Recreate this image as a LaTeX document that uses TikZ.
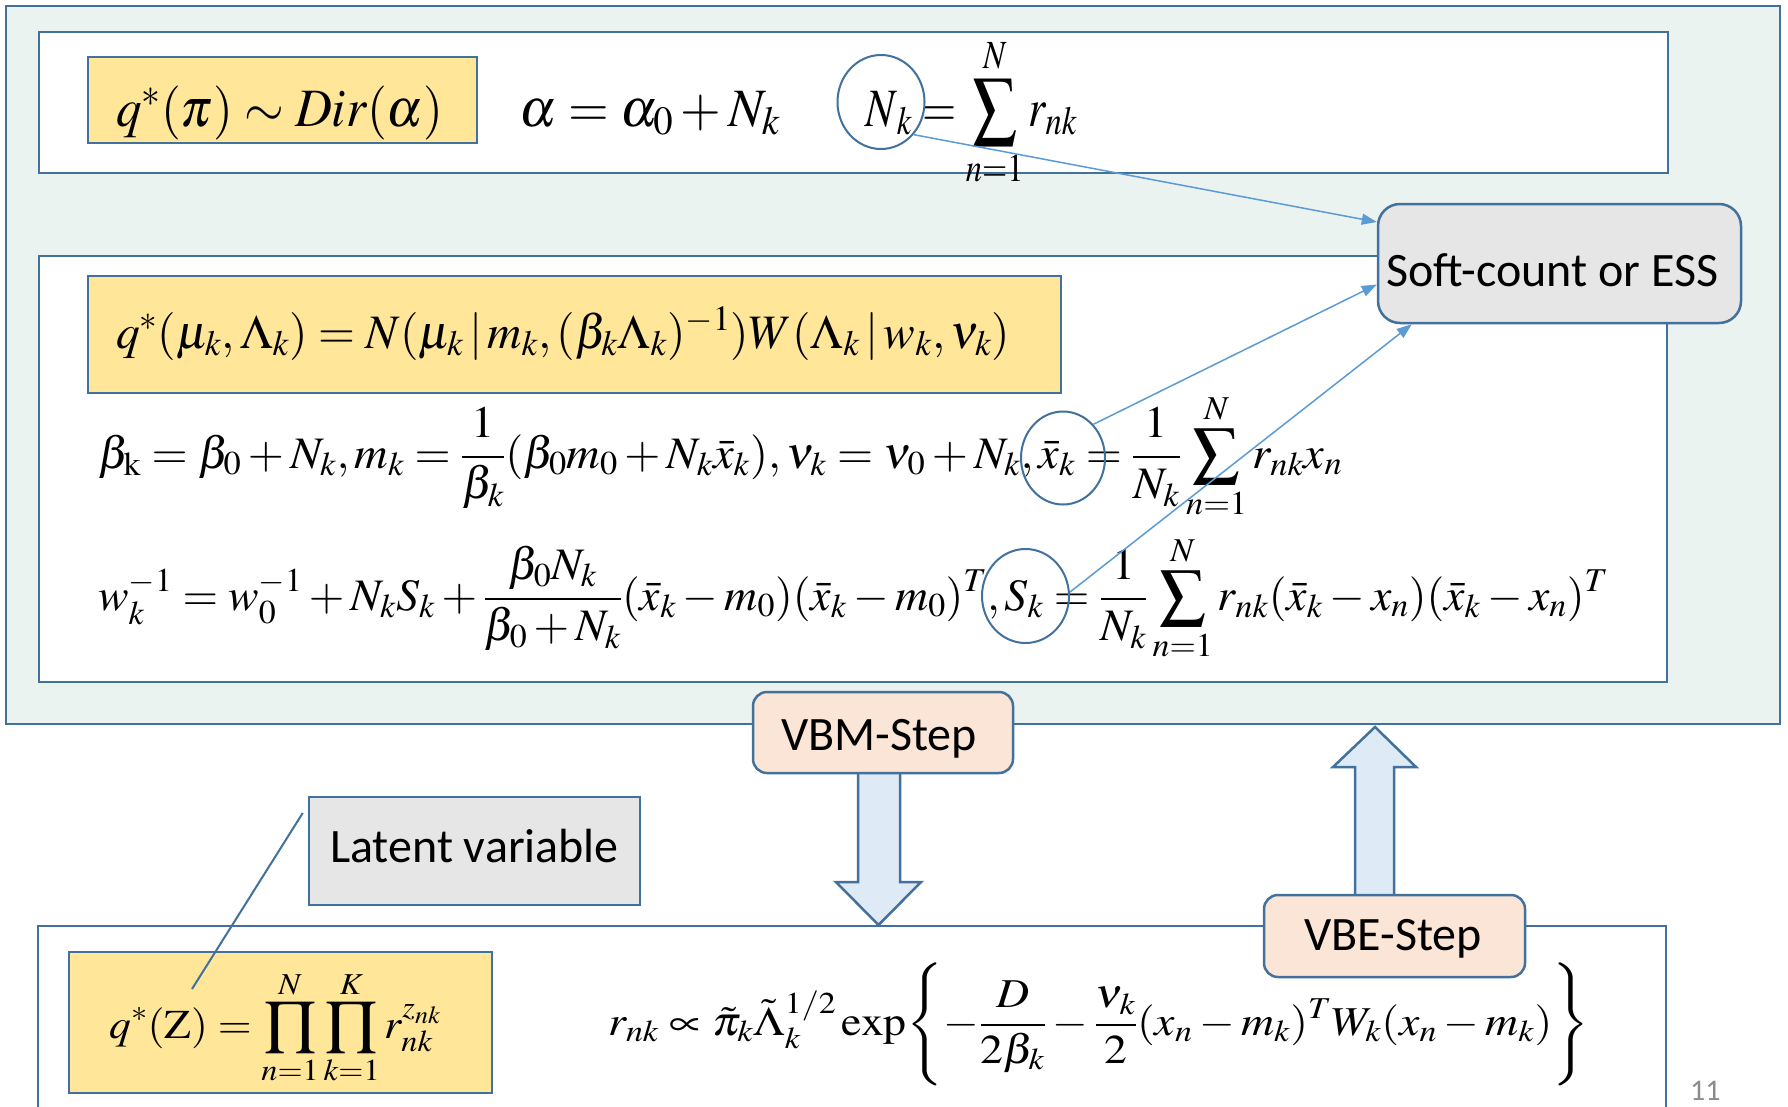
\documentclass[tikz,border=0pt]{standalone}
\usepackage{mathptmx}
\usepackage[no-math]{fontspec}
\setsansfont{Carlito}
\usepackage{graphicx}
\usetikzlibrary{arrows.meta,shapes.geometric}

\definecolor{frameblue}{HTML}{41719C}
\definecolor{panelbg}{HTML}{EBF3F0}
\definecolor{formulabg}{HTML}{FFE699}
\definecolor{notegray}{HTML}{E6E6E6}
\definecolor{stepbg}{HTML}{FBE5D6}
\definecolor{arrowbg}{HTML}{DEEBF7}
\definecolor{linkblue}{HTML}{5B9BD5}
\definecolor{pagegray}{HTML}{8C8C8C}

% stretch a formula horizontally to a given width, keeping its height
\newcommand{\fitw}[2]{\resizebox{#1}{\height}{#2}}
\newcommand{\fsz}[1]{\fontsize{#1}{#1}\selectfont}

\tikzset{
  panel/.style={draw=frameblue, line width=2.5pt, rectangle, inner sep=0pt},
  formulabox/.style={panel, fill=formulabg},
  notebox/.style={panel, fill=notegray},
  stepbox/.style={panel, fill=stepbg, rounded corners=14pt},
  ring/.style={ellipse, draw=frameblue, line width=2pt, inner sep=0pt},
  eq/.style={anchor=base west, inner sep=0pt},
  label/.style={anchor=base, inner sep=0pt, font=\sffamily\fsz{48}},
  link/.style={draw=linkblue, line width=1.5pt, -{Triangle[length=15pt,width=11pt]}},
  callout/.style={draw=frameblue, line width=2pt},
  blockarrow/.style={draw=frameblue, line width=2.5pt, fill=arrowbg, line join=miter},
}

\begin{document}
\begin{tikzpicture}[x=1pt, y=-1pt]
\useasboundingbox (0,0) rectangle (1788,1106);
\fill[white] (0,0) rectangle (1788,1106);

% update panel for the parameters
\node[panel, fill=panelbg, minimum width=1774pt, minimum height=718pt] (mpanel) at (893,365) {};
\node[panel, fill=white, minimum width=1629pt, minimum height=141pt] (pipanel) at (853.5,102.5) {};
\node[panel, fill=white, minimum width=1628pt, minimum height=426pt] (mupanel) at (853,469) {};

% step arrows
\draw[blockarrow] (858,772) -- (900,772) -- (900,882) -- (921,882) -- (878.5,925)
  -- (836,882) -- (858,882) -- cycle;
\draw[blockarrow] (1355,897) -- (1394,897) -- (1394,767) -- (1416,767) -- (1375,727)
  -- (1333,767) -- (1355,767) -- cycle;

% responsibilities panel
\node[panel, fill=white, minimum width=1628pt, minimum height=200pt] (epanel) at (852,1026) {};

% mixing weights
\node[formulabox, minimum width=389pt, minimum height=86pt] (pibox) at (282.5,100) {};
\node[eq] (pieq) at (116,126) {\fsz{54}\fitw{327pt}{$q^{*}(\pi)\sim \mathit{Dir}(\alpha)$}};
\node[eq] (alphaeq) at (519,126) {\fsz{54}\fitw{261pt}{$\alpha=\alpha_{0}+N_{k}$}};
\node[eq] (nkeq) at (865,126) {\fsz{54}\fitw{212pt}{$\displaystyle N_{\,k}=\sum_{n=1}^{N} r_{nk}$}};
\node[ring, minimum width=87pt, minimum height=94pt] (nkring) at (881,102) {};

% Gaussian-Wishart parameters
\node[formulabox, minimum width=973pt, minimum height=117pt] (mubox) at (574.5,334.5) {};
\node[eq] (mueq) at (116,348) {\fsz{48}\fitw{894pt}{$q^{*}(\mu_{k},\Lambda_{k})=N(\mu_{k}\,|\,m_{k},(\beta_{k}\Lambda_{k})^{-1})W(\Lambda_{k}\,|\,w_{k},\nu_{k})$}};
\node[eq] (betaeq) at (98,468) {\fsz{45}\fitw{1244pt}{$\displaystyle \beta_{\mathrm{k}}=\beta_{0}+N_{k},m_{k}=\frac{1}{\beta_{k}}(\beta_{0}m_{0}+N_{k}\bar{x}_{k}),\nu_{k}=\nu_{0}+N_{k},\bar{x}_{k}=\frac{1}{N_{k}}\sum_{n=1}^{N}r_{nk}x_{n}$}};
\node[eq] (weq) at (98,610) {\fsz{45}\fitw{1510pt}{$\displaystyle w_{k}^{-1}=w_{0}^{-1}+N_{k}S_{k}+\frac{\beta_{0}N_{k}}{\beta_{0}+N_{k}}(\bar{x}_{k}-m_{0})(\bar{x}_{k}-m_{0})^{T},S_{k}=\frac{1}{N_{k}}\sum_{n=1}^{N}r_{nk}(\bar{x}_{k}-x_{n})(\bar{x}_{k}-x_{n})^{T}$}};
\node[ring, minimum width=84pt, minimum height=93pt] (xbring) at (1063,458) {};
\node[ring, minimum width=87pt, minimum height=94pt] (skring) at (1025.5,596) {};

% responsibilities
\node[formulabox, minimum width=423pt, minimum height=141pt] (zbox) at (280.5,1022.5) {};
\node[eq] (zeq) at (109,1038) {\fsz{41}\fitw{332pt}{$\displaystyle q^{*}(\mathrm{Z})=\prod_{n=1}^{N}\prod_{k=1}^{K}r_{nk}^{z_{nk}}$}};
\node[eq] (req) at (608,1035) {\fsz{41}\fitw{981pt}{$\displaystyle r_{nk}\propto\tilde{\pi}_{k}\tilde{\Lambda}_{k}^{1/2}\exp\Biggl\{-\frac{D}{2\beta_{k}}-\frac{\nu_{k}}{2}(x_{n}-m_{k})^{T}W_{k}(x_{n}-m_{k})\Biggr\}$}};

% sufficient statistics
\node[notebox, rounded corners=22pt, minimum width=363pt, minimum height=119pt] (ess) at (1559.5,263.5) {};
\node[label] (esstext) at (1552.5,286) {Soft-count or ESS};
\draw[link] (nkring.-45) -- ([yshift=41.5pt]ess.west);
\draw[link] (xbring.48) -- ([yshift=-21pt]ess.west);
\draw[link] (skring.5) -- ([xshift=35pt]ess.south west);

% step labels
\node[stepbox, minimum width=260pt, minimum height=81pt] (vbm) at (883,732.5) {};
\node[label] (vbmtext) at (879,750) {VBM-Step};
\node[stepbox, minimum width=261pt, minimum height=82pt] (vbe) at (1394.5,936) {};
\node[label] (vbetext) at (1393,950) {VBE-Step};

% latent variable note
\node[notebox, minimum width=331pt, minimum height=108pt] (latent) at (474.5,851) {};
\node[label] (latenttext) at (474.5,862) {Latent variable};
\coordinate (zpoint) at (192,989);
\draw[callout] ([xshift=-5pt,yshift=38pt]latent.west) -- (zpoint);

\node[anchor=base west, inner sep=0pt, font=\sffamily\fsz{30}, text=pagegray] (pagenum) at (1690,1100) {11};
\end{tikzpicture}
\end{document}
